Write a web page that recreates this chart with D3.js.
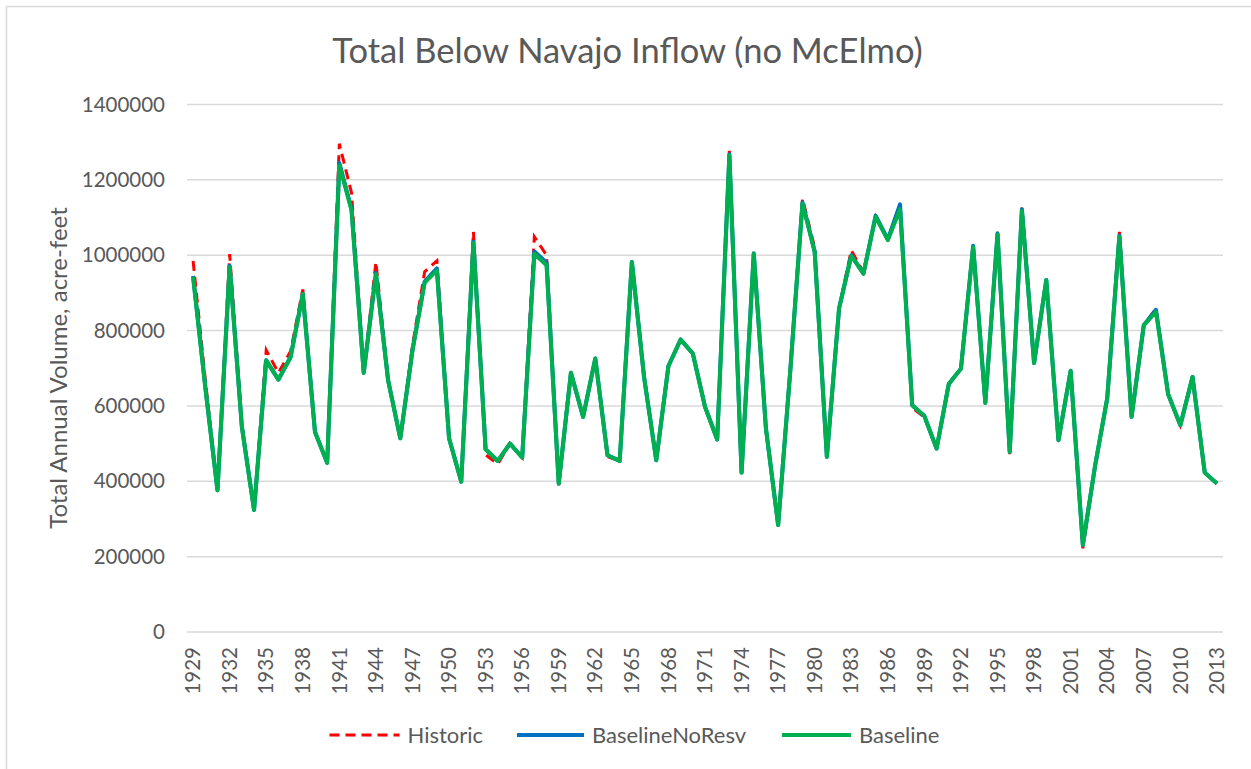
<!DOCTYPE html>
<html>
<head>
<meta charset="utf-8">
<script src="https://cdn.jsdelivr.net/npm/d3@7"></script>
<style>
  body { margin: 0; background: #fff; }
  text { font-family: Lato, "Open Sans", sans-serif; fill: #595959; }
</style>
</head>
<body>
<script>
var width = 1251, height = 769;

// years 1929..2013
var years = [];
for (var yr = 1929; yr <= 2013; yr++) years.push(yr);

// values (acre-feet)
var historic = [
  985000, 670000, 376000, 1003000, 550000, 324000, 748000, 688000, 745000, 909000,
  531000, 449000, 1296000, 1165000, 688000, 982000, 670000, 514000, 760000, 956000,
  985000, 514000, 399000, 1062000, 470000, 446000, 500000, 463000, 1049000, 1000000,
  390000, 688000, 571000, 726000, 465000, 454000, 982000, 680000, 456000, 706000,
  776000, 739000, 598000, 511000, 1277000, 420000, 1003000, 540000, 284000, 695000,
  1150000, 1020000, 465000, 859000, 1013000, 955000, 1102000, 1040000, 1135000, 595000,
  570000, 487000, 658000, 699000, 1025000, 608000, 1058000, 472000, 1128000, 714000,
  934000, 509000, 693000, 222000, 440000, 620000, 1062000, 571000, 814000, 858000,
  631000, 549000, 680000, 423000, 394000
];
var baselineNoResv = [
  945000, 650000, 376000, 972000, 545000, 324000, 721000, 670000, 730000, 897000,
  531000, 449000, 1245000, 1122000, 688000, 953000, 668000, 514000, 748000, 930000,
  965000, 514000, 399000, 1036000, 485000, 454000, 500000, 463000, 1010000, 980000,
  394000, 688000, 571000, 726000, 469000, 454000, 982000, 677000, 456000, 706000,
  776000, 739000, 598000, 511000, 1268000, 423000, 1005000, 540000, 284000, 695000,
  1140000, 1009000, 465000, 859000, 1000000, 951000, 1105000, 1042000, 1135000, 602000,
  573000, 487000, 658000, 699000, 1025000, 608000, 1058000, 478000, 1122000, 714000,
  934000, 509000, 693000, 231000, 440000, 620000, 1052000, 571000, 814000, 855000,
  631000, 549000, 677000, 423000, 394000
];
var baseline = [
  942000, 650000, 376000, 969000, 545000, 324000, 721000, 670000, 730000, 897000,
  531000, 449000, 1239000, 1119000, 688000, 950000, 668000, 514000, 748000, 927000,
  960000, 514000, 399000, 1033000, 485000, 454000, 500000, 463000, 1004000, 973000,
  394000, 688000, 571000, 726000, 469000, 454000, 982000, 677000, 456000, 706000,
  776000, 739000, 598000, 511000, 1265000, 423000, 1003000, 540000, 284000, 695000,
  1137000, 1009000, 465000, 859000, 998000, 951000, 1102000, 1040000, 1122000, 602000,
  573000, 487000, 658000, 699000, 1022000, 608000, 1055000, 478000, 1118000, 714000,
  934000, 509000, 693000, 231000, 440000, 620000, 1049000, 571000, 814000, 850000,
  631000, 549000, 677000, 423000, 394000
];
var yTicks = [0, 200000, 400000, 600000, 800000, 1000000, 1200000, 1400000];
var seriesNames = ["Historic", "BaselineNoResv", "Baseline"];
var seriesColors = ["#ff0000", "#0070c0", "#00b050"];

var svg = d3.select("body").append("svg").attr("width", width).attr("height", height);

// chart border (right/bottom edges cut off in the reference)
svg.append("rect")
  .attr("x", 6.5).attr("y", 6.5)
  .attr("width", 1260).attr("height", 780)
  .attr("fill", "none")
  .attr("stroke", "#d9d9d9")
  .attr("stroke-width", 1.5);

var x = d3.scaleBand().domain(years).range([187, 1223]);
var y = d3.scaleLinear().domain([0, 1400000]).range([632, 104.5]);
var cx = function(d) { return x(d) + x.bandwidth() / 2; };

// gridlines
svg.append("g")
  .selectAll("line")
  .data(yTicks)
  .enter()
  .append("line")
  .attr("x1", 187).attr("x2", 1223)
  .attr("y1", d => y(d)).attr("y2", d => y(d))
  .attr("stroke", "#d9d9d9")
  .attr("stroke-width", 1.5);

// y tick labels
svg.append("g")
  .selectAll("text")
  .data(yTicks)
  .enter()
  .append("text")
  .attr("x", 165)
  .attr("y", d => y(d))
  .attr("dy", "0.35em")
  .attr("text-anchor", "end")
  .attr("font-size", 20.5)
  .text(d => d);

// x tick labels every 3 years
svg.append("g")
  .selectAll("text")
  .data(years.filter((d, i) => i % 3 == 0))
  .enter()
  .append("text")
  .attr("transform", d => "translate(" + cx(d) + ",647) rotate(-90)")
  .attr("dy", "0.35em")
  .attr("text-anchor", "end")
  .attr("font-size", 20.5)
  .text(d => d);

// title
svg.append("text")
  .attr("x", 627.5)
  .attr("y", 63)
  .attr("text-anchor", "middle")
  .attr("font-size", 34.5)
  .text("Total Below Navajo Inflow (no McElmo)");

// y axis title
svg.append("text")
  .attr("transform", "translate(67,368) rotate(-90)")
  .attr("text-anchor", "middle")
  .attr("font-size", 24)
  .text("Total Annual Volume, acre-feet");

// lines
var line = d3.line()
  .x((d, i) => cx(years[i]))
  .y(d => y(d));

svg.append("path")
  .attr("d", line(historic))
  .attr("fill", "none")
  .attr("stroke", seriesColors[0])
  .attr("stroke-width", 3)
  .attr("stroke-dasharray", "10,6");

svg.append("path")
  .attr("d", line(baselineNoResv))
  .attr("fill", "none")
  .attr("stroke", seriesColors[1])
  .attr("stroke-width", 4)
  .attr("stroke-linejoin", "round");

svg.append("path")
  .attr("d", line(baseline))
  .attr("fill", "none")
  .attr("stroke", seriesColors[2])
  .attr("stroke-width", 4)
  .attr("stroke-linejoin", "round");

// legend
var legendX = [329.5, 517, 782];
var legendW = [70, 67, 69];
var legend = svg.append("g");
seriesNames.forEach(function(name, i) {
  legend.append("line")
    .attr("x1", legendX[i]).attr("x2", legendX[i] + legendW[i])
    .attr("y1", 735).attr("y2", 735)
    .attr("stroke", seriesColors[i])
    .attr("stroke-width", i == 0 ? 3 : 4)
    .attr("stroke-dasharray", i == 0 ? "10,6" : null);
  legend.append("text")
    .attr("x", legendX[i] + legendW[i] + 8)
    .attr("y", 735)
    .attr("dy", "0.35em")
    .attr("font-size", 22)
    .text(name);
});
</script>
</body>
</html>
